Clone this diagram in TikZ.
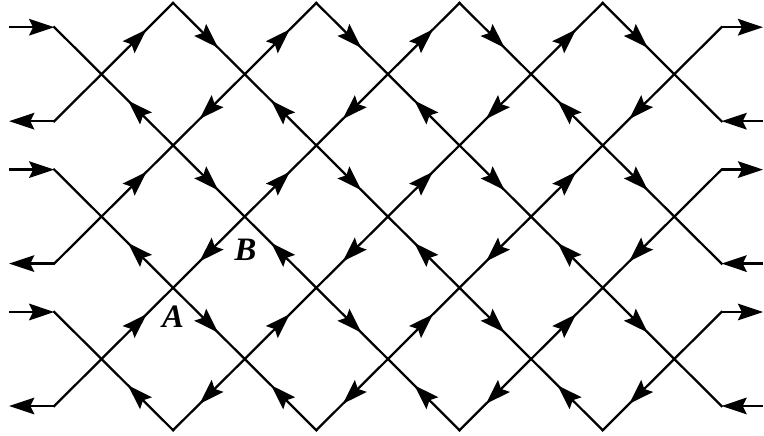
\documentclass[tikz,border=0pt]{standalone}
\usepackage{fontspec}
\setmainfont{Liberation Serif}
\usetikzlibrary{arrows.meta, decorations.markings}
\tikzset{
  wire/.style={line width=0.9pt,black,line cap=rect},
  flow/.style={wire,postaction={decorate},
               decoration={markings,mark=at position 0.63 with
               {\arrow{Stealth[length=10pt,width=6.6pt,inset=1.6pt]}}}},
  lead/.style={line width=0.9pt,black,-{Stealth[length=10pt,width=6.6pt,inset=1.6pt]}},
  lbl/.style={font=\fontsize{13}{15}\selectfont\bfseries\itshape},
}
\begin{document}
\begin{tikzpicture}[x=1cm,y=-0.9944cm]
  \useasboundingbox (-1.4176,-0.0421) rectangle (9.2528,6.0815);
  % lattice sites
  \foreach \i in {0,...,8}
    \foreach \j in {0,...,6}
      \coordinate (p-\i-\j) at (\i,\j);
  % plaquettes, each one run clockwise
  \foreach \i in {1,3,5,7}
    \foreach \j in {1,3,5} {
      \pgfmathtruncatemacro\pl{\i-1}
      \pgfmathtruncatemacro\pr{\i+1}
      \pgfmathtruncatemacro\pu{\j-1}
      \pgfmathtruncatemacro\pd{\j+1}
      \draw[flow](p-\pl-\j)--(p-\i-\pu);
      \draw[flow](p-\i-\pu)--(p-\pr-\j);
      \draw[flow](p-\pr-\j)--(p-\i-\pd);
      \draw[flow](p-\i-\pd)--(p-\pl-\j);
    }
  % leads on both sides
  \foreach \j in {1,3,5} {
    \coordinate (lu-\j) at (-0.66,\j-0.66);
    \coordinate (ld-\j) at (-0.66,\j+0.66);
    \coordinate (lue-\j) at (-1.29,\j-0.66);
    \coordinate (lde-\j) at (-1.29,\j+0.66);
    \coordinate (ru-\j) at (8.66,\j-0.66);
    \coordinate (rd-\j) at (8.66,\j+0.66);
    \coordinate (rue-\j) at (9.24,\j-0.66);
    \coordinate (rde-\j) at (9.24,\j+0.66);
    \draw[lead](lue-\j)--(lu-\j);
    \draw[wire](lu-\j)--(p-0-\j)--(ld-\j);
    \draw[lead](ld-\j)--(lde-\j);
    \draw[wire](rd-\j)--(p-8-\j)--(ru-\j);
    \draw[lead](ru-\j)--(rue-\j);
    \draw[lead](rde-\j)--(rd-\j);
  }
  \node[lbl](labA) at (1,4.41){A};
  \node[lbl](labB) at (2.01,3.47){B};
\end{tikzpicture}
\end{document}
